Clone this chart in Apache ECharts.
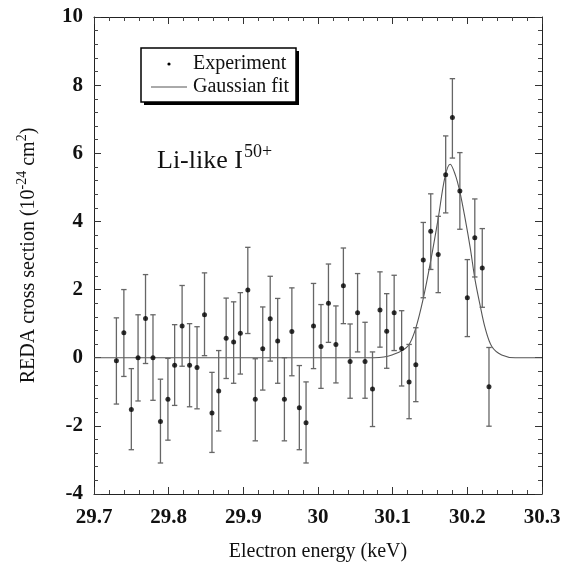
<!DOCTYPE html>
<html>
<head>
<meta charset="utf-8">
<script src="https://cdn.jsdelivr.net/npm/echarts@6/dist/echarts.min.js"></script>
<style>html,body{margin:0;padding:0;background:#fff;}#c{width:573px;height:569px;}</style>
</head>
<body>
<div id="c"></div>
<script>
// Experimental points (electron energy in keV)
const energies = [29.730, 29.740, 29.750, 29.759, 29.769, 29.779, 29.789, 29.799, 29.808, 29.818,
  29.828, 29.838, 29.848, 29.858, 29.867, 29.877, 29.887, 29.896, 29.906, 29.916,
  29.926, 29.936, 29.946, 29.955, 29.965, 29.975, 29.984, 29.994, 30.004, 30.014,
  30.024, 30.034, 30.043, 30.053, 30.063, 30.073, 30.083, 30.092, 30.102, 30.112,
  30.122, 30.131, 30.141, 30.151, 30.161, 30.171, 30.180, 30.190, 30.200, 30.210,
  30.220, 30.229];
const crossSection = [-0.09, 0.73, -1.52, 0.00, 1.15, 0.00, -1.87, -1.22, -0.22, 0.93,
  -0.22, -0.29, 1.26, -1.62, -0.98, 0.57, 0.46, 0.72, 1.99, -1.22,
  0.26, 1.14, 0.49, -1.22, 0.77, -1.47, -1.91, 0.93, 0.33, 1.60,
  0.39, 2.11, -0.11, 1.32, -0.11, -0.92, 1.40, 0.78, 1.32, 0.27,
  -0.71, -0.21, 2.87, 3.71, 3.03, 5.37, 7.05, 4.89, 1.76, 3.52,
  2.63, -0.85];
const errHigh = [1.17, 2.00, -0.32, 1.26, 2.44, 1.26, -0.63, -0.02, 0.97, 2.12,
  1.00, 0.91, 2.49, -0.43, 0.21, 1.75, 1.64, 1.91, 3.24, -0.03,
  1.49, 2.39, 1.74, 0.00, 2.05, -0.23, -0.71, 2.18, 1.56, 2.75,
  1.52, 3.22, 0.99, 2.47, 1.04, 0.17, 2.52, 1.88, 2.42, 1.38,
  0.39, 0.88, 3.97, 4.81, 4.15, 6.51, 8.19, 6.02, 2.88, 4.66,
  3.79, 0.30];
const errLow = [-1.36, -0.55, -2.70, -1.27, -0.17, -1.25, -3.09, -2.42, -1.40, -0.25,
  -1.44, -1.50, 0.06, -2.78, -2.15, -0.61, -0.75, -0.48, 0.71, -2.44,
  -0.95, -0.10, -0.75, -2.44, -0.53, -2.70, -3.09, -0.32, -0.90, 0.45,
  -0.74, 1.00, -1.19, 0.17, -1.19, -2.02, 0.31, -0.31, 0.21, -0.83,
  -1.79, -1.29, 1.76, 2.59, 1.91, 4.25, 5.86, 3.77, 0.62, 2.37,
  1.48, -2.01];
// Gaussian fit curve
const fitEnergy = [29.70, 29.90, 30.05, 30.075, 30.088, 30.100, 30.112, 30.122, 30.131, 30.141,
  30.151, 30.161, 30.170, 30.177, 30.184, 30.190, 30.197, 30.204, 30.210, 30.217,
  30.224, 30.233, 30.246, 30.264, 30.30];
const fitValue = [0, 0, 0, 0, 0.02, 0.09, 0.2, 0.39, 0.87, 1.74,
  2.85, 4.09, 5.30, 5.68, 5.36, 4.87, 4.09, 3.21, 2.33, 1.55,
  0.86, 0.32, 0.08, 0, 0];
const xTicks = {min: 29.7, max: 30.3, interval: 0.1};
const yTicks = {min: -4, max: 10, interval: 2};

const SERIF = "'Liberation Serif', 'Times New Roman', serif";
const chart = echarts.init(document.getElementById('c'), null, {renderer: 'canvas'});

const points = energies.map((e, i) => [e, crossSection[i]]);
const bars = energies.map((e, i) => [e, errLow[i], errHigh[i]]);
const fit = fitEnergy.map((e, i) => [e, fitValue[i]]);

const axisLine = {show: true, onZero: false, lineStyle: {color: '#222', width: 1}};
const tick = {show: true, inside: true, length: 7, lineStyle: {color: '#333'}};
const minor = {show: true, splitNumber: 5, length: 4, lineStyle: {color: '#444'}};
const xFmt = v => String(+(+v).toFixed(1));

chart.setOption({
  animation: false,
  backgroundColor: '#fff',
  grid: {left: 94, right: 31, top: 17, bottom: 75, containLabel: false},
  xAxis: [{
    type: 'value', min: xTicks.min, max: xTicks.max, interval: xTicks.interval,
    axisLine, axisTick: tick, minorTick: minor, splitLine: {show: false},
    axisLabel: {formatter: xFmt, fontFamily: SERIF, fontWeight: 'bold', fontSize: 21, color: '#111', margin: 13},
    name: 'Electron energy (keV)', nameLocation: 'middle', nameGap: 48,
    nameTextStyle: {fontFamily: SERIF, fontSize: 20, color: '#111'}
  }, {
    type: 'value', position: 'top', min: xTicks.min, max: xTicks.max, interval: xTicks.interval,
    axisLine, axisTick: tick, minorTick: minor, splitLine: {show: false}, axisLabel: {show: false}
  }],
  yAxis: [{
    type: 'value', min: yTicks.min, max: yTicks.max, interval: yTicks.interval,
    axisLine, axisTick: tick, minorTick: minor, splitLine: {show: false},
    axisLabel: {fontFamily: SERIF, fontWeight: 'bold', fontSize: 21, color: '#111', margin: 11},
    name: '{n|REDA cross section (10}{s|-24}{n| cm}{s|2}{n|)}', nameLocation: 'middle', nameGap: 52,
    nameTextStyle: {
      fontFamily: SERIF, fontSize: 20, color: '#111',
      rich: {
        n: {fontFamily: SERIF, fontSize: 20, color: '#111', lineHeight: 27, verticalAlign: 'middle'},
        s: {fontFamily: SERIF, fontSize: 14, color: '#111', lineHeight: 15, verticalAlign: 'top'}
      }
    }
  }, {
    type: 'value', position: 'right', min: yTicks.min, max: yTicks.max, interval: yTicks.interval,
    axisLine, axisTick: tick, minorTick: minor, splitLine: {show: false}, axisLabel: {show: false}
  }],
  series: [{
    name: 'Gaussian fit', type: 'line', data: fit, smooth: 0.35, symbol: 'none',
    lineStyle: {color: '#555', width: 1.1}, z: 2
  }, {
    name: 'bars', type: 'custom', data: bars, encode: {x: 0, y: [1, 2]}, z: 3,
    renderItem: function (params, api) {
      const x = api.value(0), lo = api.value(1), hi = api.value(2);
      const p1 = api.coord([x, hi]), p2 = api.coord([x, lo]);
      const w = 2.7;
      const st = {stroke: '#666', lineWidth: 1.3};
      return {type: 'group', children: [
        {type: 'line', shape: {x1: p1[0], y1: p1[1], x2: p2[0], y2: p2[1]}, style: st},
        {type: 'line', shape: {x1: p1[0] - w, y1: p1[1], x2: p1[0] + w, y2: p1[1]}, style: st},
        {type: 'line', shape: {x1: p2[0] - w, y1: p2[1], x2: p2[0] + w, y2: p2[1]}, style: st}
      ]};
    }
  }, {
    name: 'Experiment', type: 'scatter', data: points, symbol: 'circle', symbolSize: 5,
    itemStyle: {color: '#000'}, z: 4
  }],
  graphic: [
    {type: 'rect', shape: {x: 144, y: 51, width: 155, height: 54}, style: {fill: '#000'}, z: 100},
    {type: 'rect', shape: {x: 141, y: 48, width: 155, height: 54}, style: {fill: '#fff', stroke: '#000', lineWidth: 1.5}, z: 101},
    {type: 'circle', shape: {cx: 169, cy: 64, r: 1.6}, style: {fill: '#000'}, z: 102},
    {type: 'text', style: {x: 193, y: 64, text: 'Experiment', font: '20px ' + SERIF, fill: '#111', verticalAlign: 'middle'}, z: 102},
    {type: 'line', shape: {x1: 151, y1: 87, x2: 187, y2: 87}, style: {stroke: '#555', lineWidth: 1}, z: 102},
    {type: 'text', style: {x: 193, y: 87, text: 'Gaussian fit', font: '20px ' + SERIF, fill: '#111', verticalAlign: 'middle'}, z: 102},
    {type: 'text', style: {x: 157, y: 161, text: 'Li-like I', font: '26px ' + SERIF, fill: '#111', verticalAlign: 'middle'}, z: 102},
    {type: 'text', style: {x: 244, y: 152, text: '50+', font: '18px ' + SERIF, fill: '#111', verticalAlign: 'middle'}, z: 102}
  ]
});
</script>
</body>
</html>
